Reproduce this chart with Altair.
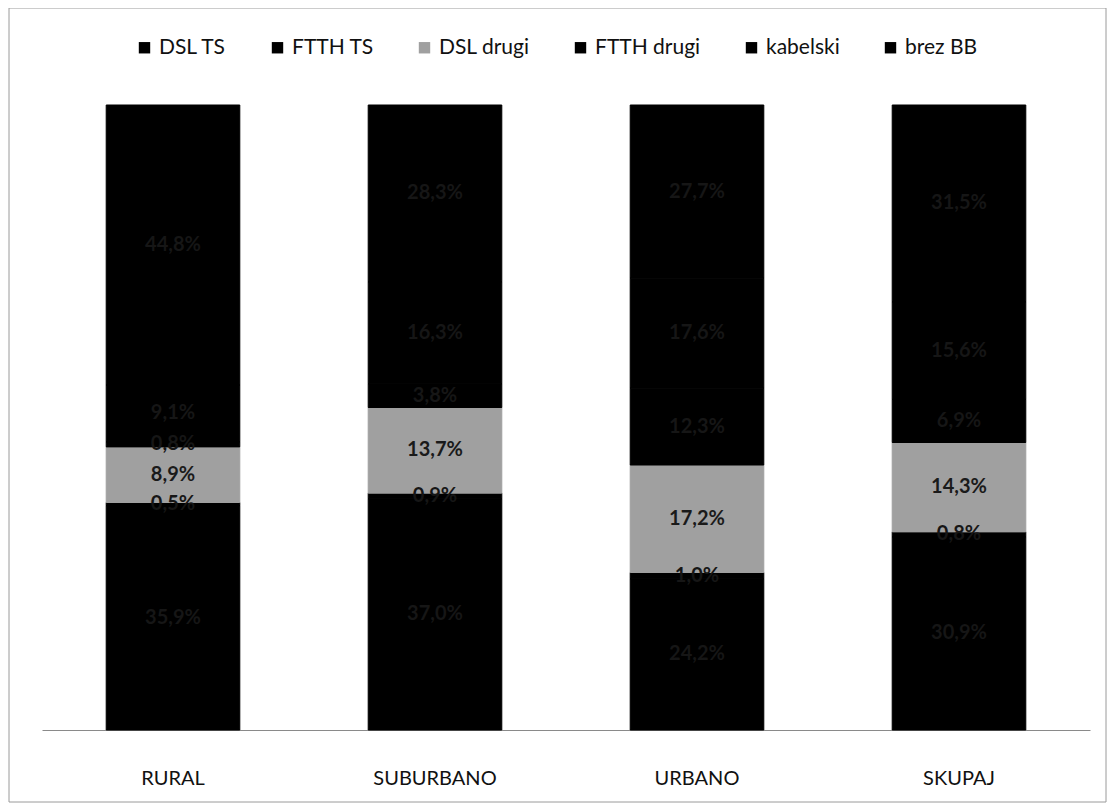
import altair as alt
import pandas as pd

categories = ["RURAL", "SUBURBANO", "URBANO", "SKUPAJ"]
series = ["DSL TS", "FTTH TS", "DSL drugi", "FTTH drugi", "kabelski", "brez BB"]
# values per series, in category order (percent)
dsl_ts = [35.9, 37.0, 24.2, 30.9]
ftth_ts = [0.5, 0.9, 1.0, 0.8]
dsl_drugi = [8.9, 13.7, 17.2, 14.3]
ftth_drugi = [0.8, 3.8, 12.3, 6.9]
kabelski = [9.1, 16.3, 17.6, 15.6]
brez_bb = [44.8, 28.3, 27.7, 31.5]

colors = ["#000000", "#000000", "#a0a0a0", "#000000", "#000000", "#000000"]

vals = [dsl_ts, ftth_ts, dsl_drugi, ftth_drugi, kabelski, brez_bb]
rows = []
for si, s in enumerate(series):
    for ci, c in enumerate(categories):
        rows.append({"cat": c, "series": s, "idx": si, "value": vals[si][ci]})
df = pd.DataFrame(rows)

W, H = 1048, 625

base = alt.Chart(df).transform_stack(
    stack="value", groupby=["cat"], as_=["y0", "y1"],
    sort=[{"field": "idx", "order": "ascending"}]
).transform_calculate(
    mid="(datum.y0 + datum.y1) / 2",
    label="replace(format(datum.value, '.1f'), '.', ',') + '%'"
)

xenc = alt.X("cat:N", sort=categories, title=None,
             scale=alt.Scale(paddingInner=0.49, paddingOuter=0.245),
             axis=alt.Axis(labelAngle=0, ticks=False, labelPadding=38,
                           labelFontSize=20, labelColor="#111111",
                           labelFont="Lato", domainColor="#8a8a8a",
                           domainWidth=1))
yscale = alt.Scale(domain=[0, 100], nice=False)

bars = base.mark_bar(strokeWidth=1).encode(
    x=xenc,
    y=alt.Y("y0:Q", scale=yscale, axis=None),
    y2="y1:Q",
    color=alt.Color("series:N", sort=series,
                    scale=alt.Scale(domain=series, range=colors),
                    legend=alt.Legend(title=None, orient="none", direction="horizontal",
                                      legendX=92, legendY=-68,
                                      symbolType="square", symbolSize=130,
                                      symbolStrokeWidth=0,
                                      labelFontSize=21, labelFont="Lato",
                                      labelColor="#111111", columnPadding=40,
                                      symbolOffset=0)),
    stroke=alt.Color("series:N", sort=series,
                     scale=alt.Scale(domain=series, range=colors), legend=None),
)

texts = base.mark_text(fontSize=20, font="Lato", fontWeight="bold").encode(
    x=alt.X("cat:N", sort=categories),
    y=alt.Y("mid:Q", scale=yscale),
    text="label:N",
    color=alt.condition("datum.series == 'DSL drugi'",
                        alt.value("#1a1a1a"), alt.value("#161616")),
)

frame = alt.Chart(pd.DataFrame({"a": [0]})).mark_rect(
    fill=None, stroke="#9a9a9a", strokeWidth=1
).encode(x=alt.value(-33), x2=alt.value(W + 16), y=alt.value(-97), y2=alt.value(H + 72))

chart = alt.layer(frame, bars, texts).properties(
    width=W, height=H,
    background="white",
    padding={"left": 34, "top": 97, "right": 17, "bottom": 80},
    autosize=alt.AutoSizeParams(type="none"),
).configure_view(strokeWidth=0, stroke="transparent")

chart.save("out.html", embed_options={"renderer": "svg", "actions": False})
